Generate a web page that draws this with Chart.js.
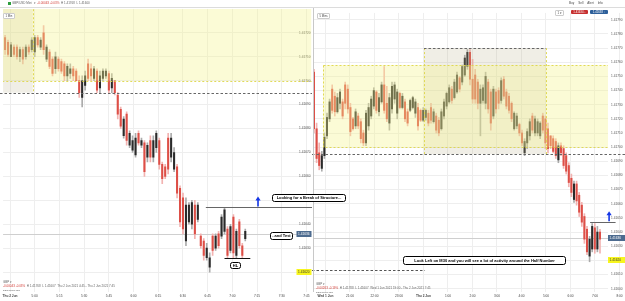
<!DOCTYPE html>
<html>
<head>
<meta charset="utf-8">
<title>GBPUSD M1 / M5</title>
<script src="https://cdn.jsdelivr.net/npm/chart.js@4.4.1/dist/chart.umd.min.js"></script>
<style>
  html, body { margin: 0; padding: 0; background: #fff; }
  body { width: 625px; height: 301px; overflow: hidden; position: relative;
         font-family: "Liberation Sans", Arial, sans-serif; }
  #left  { position: absolute; left: 0;     top: 8px; }
  #right { position: absolute; left: 312px; top: 8px; }
  .topbar { position: absolute; left: 0; top: 0; width: 625px; height: 7px;
            border-bottom: 1px solid #dcdcdc; background: #fff; }
  .t { position: absolute; font-size: 3px; line-height: 3px; color: #666; white-space: nowrap; }
  .t b { color: #d23b34; font-weight: normal; }
  .sq { position: absolute; left: 8px; top: 2px; width: 3px; height: 3px; background: #2e9e3e; }
  .tag { position: absolute; height: 4px; font-size: 2.8px; line-height: 4px; color: #fff;
         text-align: center; border-radius: 1px; }
  .tf { position: absolute; background: #fff; border: 0.6px solid #ccc; border-radius: 1px;
        font-size: 2.8px; line-height: 4px; padding: 0 1.5px; color: #444; }
  .note { position: absolute; box-sizing: border-box; background: #fff; border: 1.3px solid #000;
          border-radius: 2.5px; font: bold 4px/1 "Liberation Sans", Arial, sans-serif; color: #000;
          display: flex; align-items: center; justify-content: center; white-space: nowrap; }
</style>
</head>
<body>
<canvas id="left" width="312" height="293"></canvas>
<canvas id="right" width="313" height="293"></canvas>

<div class="topbar"></div>
<div class="sq"></div>
<div class="t" style="left:12px;top:2px">GBP/USD Mini &nbsp;▾ &nbsp;<b>-0.00043 -0.03%</b> &nbsp;H 1.41768 &nbsp;L 1.41600</div>
<div class="t" style="left:569px;top:2px;color:#444">Buy &nbsp;&nbsp;&nbsp; Sell &nbsp;&nbsp;&nbsp; Alert &nbsp;&nbsp;&nbsp; Info</div>
<div class="tf" style="left:555px;top:10px">1 ▾</div>
<div class="tag" style="left:571px;top:10px;width:17px;background:#c62f2f">1.41634 ↓</div>
<div class="tag" style="left:590px;top:10px;width:18px;background:#2d5f9a">1.41638 ↑</div>

<div class="tf" style="left:3px;top:13px">1 Min</div>
<div class="tf" style="left:317px;top:13px">5 Mins</div>

<div class="t" style="left:3px;top:281px">GBP ▾</div>
<div class="t" style="left:3px;top:285px"><b>-0.00043 -0.03%</b> &nbsp;H 1.41768 &nbsp;L 1.41607 &nbsp;Thu 2 Jun 2021 4:45 - Thu 2 Jun 2021 7:45</div>
<div class="t" style="left:3px;top:289px;font-size:2.5px">DESCRIPTION</div>
<div class="t" style="left:316px;top:283px">GBP ▾</div>
<div class="t" style="left:316px;top:287px"><b>-0.00263 -0.19%</b> &nbsp;H 1.41788 &nbsp;L 1.41607 &nbsp;Wed 1 Jun 2021 19:00 - Thu 2 Jun 2021 7:45</div>
<div class="t" style="left:316px;top:291px;font-size:2.5px">DESCRIPTION</div>

<div class="note" style="left:272px;top:194px;width:74px;height:8px">Looking for a Break of Structure...</div>
<div class="note" style="left:270px;top:232px;width:23px;height:8px">..and Test</div>
<div class="note" style="left:230px;top:262px;width:11px;height:7px">HL</div>
<div class="note" style="left:403px;top:256px;width:163px;height:9px">Look Left on M30 and you will see a lot of activity around the Half Number</div>

<script>
// ─────────────────────────────────────────────────────────────
// DATA — GBP/USD, left panel 1 min, right panel 5 min
// ─────────────────────────────────────────────────────────────
const leftTimeLabels  = ['Thu 2 Jun', '5:00', '5:15', '5:30', '5:45', '6:00', '6:15', '6:30', '6:45', '7:00', '7:15', '7:30', '7:45'];
const rightTimeLabels = ['Wed 1 Jun', '21:00', '22:00', '23:00', 'Thu 2 Jun', '1:00', '2:00', '3:00', '4:00', '5:00', '6:00', '7:00', '8:00'];

const leftPriceTicks  = [1.4162, 1.4163, 1.4164, 1.4165, 1.4166, 1.4167, 1.4168, 1.4169, 1.4170, 1.4171, 1.4172];
const rightPriceTicks = [1.4160, 1.4161, 1.4162, 1.4163, 1.4164, 1.4165, 1.4166, 1.4167, 1.4168, 1.4169,
                         1.4170, 1.4171, 1.4172, 1.4173, 1.4174, 1.4175, 1.4176, 1.4177, 1.4178, 1.4179];

const leftOpens = [
  1.41718, 1.41716, 1.41710, 1.41714, 1.41714, 1.41710, 1.41713, 1.41710, 1.41714, 1.41713,
  1.41712, 1.41718, 1.41714, 1.41720, 1.41709, 1.41712, 1.41709, 1.41705, 1.41709, 1.41708,
  1.41707, 1.41702, 1.41703, 1.41705, 1.41704, 1.41700, 1.41693, 1.41698, 1.41707, 1.41705,
  1.41701, 1.41704, 1.41697, 1.41701, 1.41702, 1.41703, 1.41697, 1.41700, 1.41694, 1.41688,
  1.41677, 1.41686, 1.41673, 1.41671, 1.41669, 1.41678, 1.41673, 1.41674, 1.41668, 1.41675,
  1.41668, 1.41672, 1.41675, 1.41665, 1.41664, 1.41676, 1.41668, 1.41663, 1.41664, 1.41655,
  1.41651, 1.41633, 1.41641, 1.41640, 1.41648, 1.41642, 1.41635, 1.41633, 1.41626, 1.41622,
  1.41635, 1.41630, 1.41636, 1.41635, 1.41637, 1.41638, 1.41629, 1.41643, 1.41627, 1.41641,
  1.41631, 1.41634
];
const leftHighs = [
  1.41719, 1.41717, 1.41716, 1.41715, 1.41715, 1.41714, 1.41714, 1.41715, 1.41715, 1.41718,
  1.41719, 1.41719, 1.41718, 1.41723, 1.41715, 1.41713, 1.41710, 1.41712, 1.41710, 1.41709,
  1.41708, 1.41707, 1.41707, 1.41706, 1.41705, 1.41702, 1.41702, 1.41704, 1.41709, 1.41707,
  1.41706, 1.41705, 1.41704, 1.41705, 1.41705, 1.41704, 1.41703, 1.41700, 1.41695, 1.41689,
  1.41685, 1.41687, 1.41679, 1.41677, 1.41678, 1.41679, 1.41676, 1.41675, 1.41674, 1.41677,
  1.41677, 1.41679, 1.41676, 1.41666, 1.41665, 1.41678, 1.41678, 1.41672, 1.41665, 1.41656,
  1.41653, 1.41651, 1.41649, 1.41650, 1.41650, 1.41649, 1.41636, 1.41634, 1.41632, 1.41628,
  1.41636, 1.41636, 1.41637, 1.41644, 1.41647, 1.41639, 1.41640, 1.41644, 1.41638, 1.41642,
  1.41632, 1.41638
];
const leftLows = [
  1.41711, 1.41710, 1.41710, 1.41710, 1.41709, 1.41708, 1.41707, 1.41709, 1.41711, 1.41712,
  1.41710, 1.41714, 1.41713, 1.41711, 1.41708, 1.41705, 1.41702, 1.41703, 1.41704, 1.41703,
  1.41700, 1.41700, 1.41701, 1.41700, 1.41700, 1.41693, 1.41689, 1.41696, 1.41700, 1.41700,
  1.41700, 1.41695, 1.41695, 1.41700, 1.41701, 1.41695, 1.41695, 1.41694, 1.41684, 1.41680,
  1.41676, 1.41673, 1.41672, 1.41670, 1.41668, 1.41673, 1.41672, 1.41660, 1.41666, 1.41666,
  1.41666, 1.41670, 1.41663, 1.41657, 1.41659, 1.41661, 1.41666, 1.41662, 1.41651, 1.41639,
  1.41636, 1.41631, 1.41640, 1.41638, 1.41634, 1.41641, 1.41630, 1.41625, 1.41625, 1.41620,
  1.41627, 1.41629, 1.41630, 1.41634, 1.41636, 1.41626, 1.41628, 1.41626, 1.41626, 1.41630,
  1.41626, 1.41633
];
const leftCloses = [
  1.41713, 1.41711, 1.41715, 1.41711, 1.41710, 1.41713, 1.41709, 1.41714, 1.41712, 1.41717,
  1.41718, 1.41715, 1.41717, 1.41713, 1.41714, 1.41706, 1.41703, 1.41710, 1.41705, 1.41704,
  1.41702, 1.41706, 1.41705, 1.41702, 1.41700, 1.41695, 1.41700, 1.41702, 1.41701, 1.41702,
  1.41705, 1.41696, 1.41702, 1.41704, 1.41704, 1.41696, 1.41701, 1.41695, 1.41686, 1.41681,
  1.41684, 1.41675, 1.41678, 1.41675, 1.41676, 1.41674, 1.41675, 1.41662, 1.41673, 1.41668,
  1.41675, 1.41678, 1.41665, 1.41659, 1.41660, 1.41663, 1.41676, 1.41670, 1.41653, 1.41641,
  1.41638, 1.41648, 1.41648, 1.41649, 1.41636, 1.41648, 1.41631, 1.41627, 1.41630, 1.41626,
  1.41629, 1.41635, 1.41631, 1.41643, 1.41646, 1.41627, 1.41639, 1.41628, 1.41637, 1.41631,
  1.41627, 1.41637
];

const rightOpens = [
  1.41753, 1.41713, 1.41696, 1.41685, 1.41694, 1.41708, 1.41720, 1.41741, 1.41736, 1.41725,
  1.41731, 1.41732, 1.41744, 1.41741, 1.41728, 1.41720, 1.41715, 1.41722, 1.41718, 1.41710,
  1.41703, 1.41715, 1.41722, 1.41729, 1.41739, 1.41725, 1.41732, 1.41744, 1.41731, 1.41717,
  1.41727, 1.41734, 1.41724, 1.41738, 1.41728, 1.41732, 1.41725, 1.41726, 1.41728, 1.41724,
  1.41728, 1.41726, 1.41719, 1.41721, 1.41724, 1.41728, 1.41718, 1.41722, 1.41719, 1.41713,
  1.41722, 1.41729, 1.41732, 1.41741, 1.41735, 1.41739, 1.41749, 1.41746, 1.41751, 1.41757,
  1.41767, 1.41748, 1.41751, 1.41746, 1.41731, 1.41733, 1.41731, 1.41746, 1.41739, 1.41722,
  1.41739, 1.41740, 1.41733, 1.41748, 1.41739, 1.41736, 1.41731, 1.41713, 1.41715, 1.41716,
  1.41710, 1.41696, 1.41703, 1.41708, 1.41722, 1.41710, 1.41710, 1.41708, 1.41722, 1.41720,
  1.41713, 1.41708, 1.41706, 1.41704, 1.41691, 1.41701, 1.41699, 1.41694, 1.41687, 1.41678,
  1.41663, 1.41674, 1.41666, 1.41659, 1.41651, 1.41642, 1.41623, 1.41628, 1.41643, 1.41628,
  1.41640
];
const rightHighs = [
  1.41755, 1.41717, 1.41703, 1.41697, 1.41710, 1.41724, 1.41734, 1.41744, 1.41739, 1.41738,
  1.41741, 1.41734, 1.41746, 1.41744, 1.41731, 1.41721, 1.41727, 1.41724, 1.41720, 1.41712,
  1.41726, 1.41731, 1.41736, 1.41742, 1.41740, 1.41738, 1.41746, 1.41757, 1.41743, 1.41738,
  1.41746, 1.41746, 1.41741, 1.41739, 1.41738, 1.41734, 1.41727, 1.41734, 1.41736, 1.41734,
  1.41731, 1.41727, 1.41728, 1.41727, 1.41726, 1.41731, 1.41727, 1.41724, 1.41721, 1.41727,
  1.41734, 1.41739, 1.41744, 1.41743, 1.41748, 1.41753, 1.41750, 1.41758, 1.41765, 1.41769,
  1.41769, 1.41762, 1.41755, 1.41748, 1.41744, 1.41744, 1.41753, 1.41748, 1.41741, 1.41743,
  1.41741, 1.41742, 1.41749, 1.41750, 1.41741, 1.41738, 1.41732, 1.41725, 1.41724, 1.41717,
  1.41712, 1.41706, 1.41713, 1.41720, 1.41724, 1.41722, 1.41720, 1.41718, 1.41724, 1.41722,
  1.41717, 1.41708, 1.41708, 1.41706, 1.41703, 1.41703, 1.41701, 1.41696, 1.41689, 1.41681,
  1.41676, 1.41676, 1.41668, 1.41661, 1.41653, 1.41644, 1.41637, 1.41646, 1.41646, 1.41644,
  1.41642
];
const rightLows = [
  1.41710, 1.41689, 1.41684, 1.41683, 1.41692, 1.41706, 1.41718, 1.41724, 1.41722, 1.41724,
  1.41727, 1.41720, 1.41727, 1.41724, 1.41708, 1.41712, 1.41713, 1.41713, 1.41703, 1.41701,
  1.41701, 1.41712, 1.41720, 1.41727, 1.41724, 1.41722, 1.41731, 1.41724, 1.41718, 1.41712,
  1.41724, 1.41731, 1.41720, 1.41727, 1.41727, 1.41718, 1.41715, 1.41725, 1.41727, 1.41721,
  1.41712, 1.41718, 1.41718, 1.41719, 1.41715, 1.41717, 1.41717, 1.41710, 1.41708, 1.41712,
  1.41720, 1.41727, 1.41731, 1.41731, 1.41734, 1.41738, 1.41739, 1.41744, 1.41750, 1.41755,
  1.41744, 1.41731, 1.41731, 1.41727, 1.41708, 1.41731, 1.41727, 1.41724, 1.41712, 1.41720,
  1.41724, 1.41727, 1.41731, 1.41734, 1.41727, 1.41724, 1.41718, 1.41712, 1.41713, 1.41708,
  1.41701, 1.41694, 1.41699, 1.41705, 1.41710, 1.41708, 1.41708, 1.41706, 1.41710, 1.41699,
  1.41696, 1.41699, 1.41696, 1.41692, 1.41689, 1.41694, 1.41685, 1.41681, 1.41672, 1.41665,
  1.41661, 1.41659, 1.41651, 1.41644, 1.41632, 1.41624, 1.41619, 1.41626, 1.41625, 1.41626,
  1.41625
];
const rightCloses = [
  1.41713, 1.41692, 1.41687, 1.41694, 1.41707, 1.41721, 1.41732, 1.41726, 1.41725, 1.41735,
  1.41739, 1.41722, 1.41731, 1.41727, 1.41711, 1.41713, 1.41725, 1.41715, 1.41706, 1.41703,
  1.41724, 1.41728, 1.41734, 1.41740, 1.41726, 1.41735, 1.41744, 1.41726, 1.41720, 1.41735,
  1.41743, 1.41744, 1.41739, 1.41728, 1.41736, 1.41720, 1.41717, 1.41733, 1.41735, 1.41732,
  1.41715, 1.41719, 1.41726, 1.41726, 1.41717, 1.41719, 1.41725, 1.41712, 1.41710, 1.41725,
  1.41732, 1.41738, 1.41742, 1.41733, 1.41746, 1.41751, 1.41741, 1.41757, 1.41763, 1.41767,
  1.41748, 1.41734, 1.41734, 1.41731, 1.41741, 1.41742, 1.41750, 1.41727, 1.41717, 1.41741,
  1.41727, 1.41731, 1.41747, 1.41736, 1.41729, 1.41726, 1.41720, 1.41724, 1.41722, 1.41710,
  1.41703, 1.41704, 1.41711, 1.41718, 1.41712, 1.41720, 1.41718, 1.41717, 1.41712, 1.41703,
  1.41699, 1.41701, 1.41697, 1.41694, 1.41701, 1.41696, 1.41687, 1.41683, 1.41675, 1.41668,
  1.41674, 1.41662, 1.41654, 1.41647, 1.41635, 1.41626, 1.41635, 1.41644, 1.41628, 1.41640,
  1.41635
];

// key levels
const lastPrice   = 1.41636;  // grey price line + blue axis tag
const markedLow   = 1.41620;  // yellow axis tag
const zoneBottom  = 1.41700;  // yellow supply zone
const zoneTop     = 1.41758;
const asiaLow     = 1.41695;  // Asian session box
const asiaHigh    = 1.41770;
const breakLevel  = 1.41647;  // structure high to break
const higherLow   = 1.41626;  // HL
const halfLevel   = 1.41613;  // dashed line on M5

Chart.defaults.font.family = '"Liberation Sans", Arial, sans-serif';

// ─────────────────────────────────────────────────────────────
// Helpers for drawing
// ─────────────────────────────────────────────────────────────
function hLine(ctx, x0, x1, y, color, dash, width) {
  ctx.save();
  ctx.strokeStyle = color;
  ctx.lineWidth = width || 1;
  ctx.setLineDash(dash || []);
  const yy = Math.round(y) + 0.5;
  ctx.beginPath(); ctx.moveTo(x0, yy); ctx.lineTo(x1, yy); ctx.stroke();
  ctx.restore();
}

function upArrow(ctx, x, yBase, yTip) {
  ctx.save();
  ctx.strokeStyle = '#1436e6';
  ctx.fillStyle = '#1436e6';
  ctx.lineWidth = 1.6;
  ctx.beginPath(); ctx.moveTo(x, yBase); ctx.lineTo(x, yTip + 3); ctx.stroke();
  ctx.beginPath();
  ctx.moveTo(x, yTip); ctx.lineTo(x - 2.6, yTip + 4); ctx.lineTo(x + 2.6, yTip + 4);
  ctx.closePath(); ctx.fill();
  ctx.restore();
}

function priceTag(ctx, x, w, y, bg, fg, value) {
  ctx.save();
  ctx.fillStyle = bg;
  ctx.fillRect(x, Math.round(y) - 3, w, 6);
  ctx.fillStyle = fg;
  ctx.font = '3.2px "Liberation Sans", Arial, sans-serif';
  ctx.textBaseline = 'middle';
  ctx.fillText(value.toFixed(5), x + 1.5, Math.round(y));
  ctx.restore();
}

// zones, lines, arrows, tags — all placed through the chart scales
const sessionPlugin = {
  id: 'session',
  beforeDatasetsDraw(chart) {
    const { ctx, chartArea: a, scales: { y } } = chart;
    hLine(ctx, a.left, a.right, y.getPixelForValue(lastPrice), '#cfcfcf');
  },
  afterDatasetsDraw(chart, args, o) {
    const { ctx, chartArea: a, scales: { x, y } } = chart;
    ctx.save();
    ctx.beginPath(); ctx.rect(a.left, a.top, a.right - a.left, a.bottom - a.top); ctx.clip();

    // Asian session box (grey)
    const ax0 = x.getPixelForValue(o.asiaFrom), ax1 = x.getPixelForValue(o.asiaTo);
    const ay0 = y.getPixelForValue(asiaHigh), ay1 = y.getPixelForValue(asiaLow);
    ctx.fillStyle = 'rgba(185, 176, 140, 0.22)';
    ctx.fillRect(ax0, ay0, ax1 - ax0, ay1 - ay0);

    // yellow zone
    const zx0 = x.getPixelForValue(o.zoneFrom);
    const zy0 = y.getPixelForValue(zoneTop), zy1 = y.getPixelForValue(zoneBottom);
    ctx.fillStyle = 'rgba(244, 243, 140, 0.36)';
    ctx.fillRect(zx0, zy0, a.right - zx0, zy1 - zy0);

    ctx.strokeStyle = 'rgba(222, 214, 70, 0.9)';
    ctx.setLineDash([2, 2]);
    ctx.lineWidth = 1;
    ctx.strokeRect(Math.round(zx0) + 0.5, Math.round(zy0) + 0.5, a.right - zx0 + 2, Math.round(zy1 - zy0));
    ctx.beginPath();
    ctx.moveTo(Math.round(ax1) + 0.5, ay0); ctx.lineTo(Math.round(ax1) + 0.5, ay1);
    ctx.moveTo(Math.round(ax0) + 0.5, ay0); ctx.lineTo(Math.round(ax0) + 0.5, ay1);
    ctx.stroke();
    ctx.restore();

    // dashed session lines
    hLine(ctx, ax0, ax1, ay0, '#666', [2.5, 2]);
    hLine(ctx, 0, chart.width, ay1, '#666', [2.5, 2]);
  },
  afterDraw(chart, args, o) {
    const { ctx, chartArea: a, scales: { x, y } } = chart;
    const by = y.getPixelForValue(breakLevel);

    if (o.halfTo !== undefined) {
      hLine(ctx, 0, x.getPixelForValue(o.halfTo), y.getPixelForValue(halfLevel), '#555', [2.5, 2]);
    }
    hLine(ctx, x.getPixelForValue(o.breakFrom), x.getPixelForValue(o.breakTo), by, '#666');
    if (o.hlFrom !== undefined) {
      hLine(ctx, x.getPixelForValue(o.hlFrom), x.getPixelForValue(o.hlTo), y.getPixelForValue(higherLow), '#111');
    }
    upArrow(ctx, x.getPixelForValue(o.arrowAt), by - 1, by - 11);

    if (o.leftBorder) {
      ctx.save();
      ctx.strokeStyle = '#c8c8c8';
      ctx.beginPath(); ctx.moveTo(a.left + 0.5, 0); ctx.lineTo(a.left + 0.5, a.bottom); ctx.stroke();
      ctx.restore();
    }

    priceTag(ctx, o.tagX(a), o.tagW, y.getPixelForValue(lastPrice), '#4d6b8f', '#fff', lastPrice);
    priceTag(ctx, o.tagX(a), o.tagW, y.getPixelForValue(markedLow), '#f7f51e', '#333', markedLow);
  }
};

// ─────────────────────────────────────────────────────────────
// Candle chart: wick = floating bar low..high, body = open..close
// ─────────────────────────────────────────────────────────────
function candleChart(id, p) {
  const up = i => p.closes[i] >= p.opens[i];
  return new Chart(document.getElementById(id), {
    type: 'bar',
    data: {
      datasets: [
        {
          data: p.lows.map((l, i) => ({ x: i, y: [l, p.highs[i]] })),
          backgroundColor: c => up(c.dataIndex) ? '#ababab' : '#f2b3b1',
          barThickness: 1, grouped: false, order: 2
        },
        {
          data: p.opens.map((v, i) => ({ x: i, y: [v, p.closes[i]] })),
          backgroundColor: c => up(c.dataIndex) ? '#2a2a2a' : '#dd4f47',
          barThickness: 1.4, minBarLength: 1, grouped: false, order: 1
        }
      ]
    },
    options: {
      animation: false,
      responsive: false,
      devicePixelRatio: 1,
      layout: { padding: p.padding },
      plugins: {
        legend: { display: false },
        tooltip: { enabled: false },
        session: p.anno
      },
      scales: {
        x: {
          type: 'linear', min: p.xMin, max: p.xMax, offset: false,
          afterBuildTicks: s => { s.ticks = p.timeLabels.map((_, k) => ({ value: p.tickStart + k * p.tickStep })); },
          afterFit: s => { s.height = 9; },
          grid: { color: '#eeeeee', drawTicks: false, offset: false },
          border: { display: false },
          ticks: {
            autoSkip: false, maxRotation: 0, padding: 2.5, color: '#444',
            font: c => ({ size: 3.2, weight: /Jun/.test(p.timeLabels[c.index]) ? 'bold' : 'normal' }),
            callback: (v, k) => p.timeLabels[k]
          }
        },
        y: {
          position: 'right', min: p.yMin, max: p.yMax,
          afterBuildTicks: s => { s.ticks = p.priceTicks.map(v => ({ value: v })); },
          afterFit: s => { s.width = p.axisWidth; },
          grid: { color: '#eeeeee', drawTicks: false },
          border: { display: false },
          ticks: {
            mirror: p.mirror, padding: p.tickPad, color: '#555',
            font: { size: 3.2 },
            callback: v => v.toFixed(5)
          }
        }
      }
    },
    plugins: [sessionPlugin]
  });
}

// left: M1
candleChart('left', {
  opens: leftOpens, highs: leftHighs, lows: leftLows, closes: leftCloses,
  timeLabels: leftTimeLabels, priceTicks: leftPriceTicks,
  xMin: -0.667, xMax: 103.33, tickStart: 1.67, tickStep: 8.33,
  yMin: 1.4161167, yMax: 1.4173,
  padding: 0, axisWidth: 0, mirror: true, tickPad: -1,
  anno: {
    asiaFrom: -1, asiaTo: 9.33, zoneFrom: -1,
    breakFrom: 67.7, breakTo: 104, hlFrom: 74, hlTo: 82.7, arrowAt: 85.3,
    tagX: a => a.right - 15, tagW: 15
  }
});

// right: M5
candleChart('right', {
  opens: rightOpens, highs: rightHighs, lows: rightLows, closes: rightCloses,
  timeLabels: rightTimeLabels, priceTicks: rightPriceTicks,
  xMin: -0.385, xMax: 113.08, tickStart: 4.42, tickStep: 9.423,
  yMin: 1.4159764, yMax: 1.4179486,
  padding: { left: 1 }, axisWidth: 17, mirror: false, tickPad: 3,
  anno: {
    asiaFrom: 42.3, asiaTo: 89.2, zoneFrom: 3.46, halfTo: 42.7,
    breakFrom: 106.2, breakTo: 116, arrowAt: 113.5, leftBorder: true,
    tagX: a => a.right, tagW: 17
  }
});
</script>
</body>
</html>
